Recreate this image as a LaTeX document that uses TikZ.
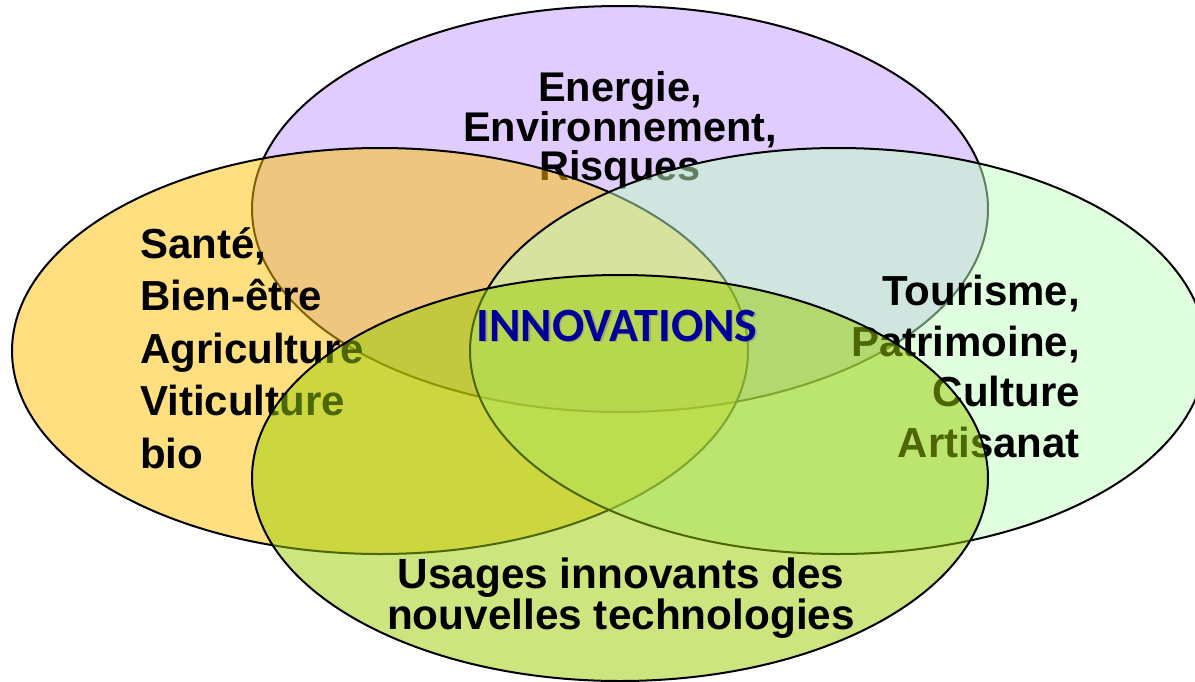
\documentclass[tikz,border=0pt]{standalone}
\usepackage{fontspec}
\usepackage{xcolor}
\setmainfont{Liberation Sans}
\newfontfamily\calibfont{Carlito}
\usetikzlibrary{shapes.geometric}
\definecolor{lilac}{RGB}{193,153,255}
\definecolor{sunny}{RGB}{255,192,0}
\definecolor{mint}{RGB}{192,255,192}
\definecolor{lime}{RGB}{153,204,0}
\definecolor{innoblue}{RGB}{0,0,153}
\tikzstyle{bubble} = [ellipse, draw=black, line width=2pt, fill opacity=0.5, minimum width=736pt, minimum height=406pt, inner sep=0pt]
\tikzstyle{theme} = [inner sep=0pt]

\begin{document}
\begin{tikzpicture}[x=1pt, y=-1pt]
    \useasboundingbox (0,0) rectangle (1195,681);
    \clip (0,0) rectangle (1195,681);
    % the four fields
    \node (energy) [bubble, fill=lilac] at (620,209) {};
    \node (energy_txt) [theme, align=center, anchor=base,
      font=\bfseries\fontsize{41.5}{38.5}\selectfont] at (620,180)
    {Energie,\\ Environnement,\\ Risques};
    \node (health) [bubble, fill=sunny] at (380,351) {};
    \node (health_txt) [theme, align=left, anchor=base west,
      font=\bfseries\fontsize{42}{52.5}\selectfont] at (140,468)
    {Santé,\\ Bien-être\\ Agriculture\\ Viticulture\\ bio};
    \node (tourism) [bubble, fill=mint] at (838,351) {};
    \node (tourism_txt) [theme, align=right, anchor=base east,
      font=\bfseries\fontsize{42}{50.5}\selectfont] at (1080,457)
    {Tourisme,\\ Patrimoine,\\ Culture\\ Artisanat};
    \node (usages) [bubble, fill=lime] at (620,478) {};
    \node (usages_txt) [theme, align=center, anchor=base,
      font=\bfseries\fontsize{42.3}{37}\selectfont] at (621,629)
    {Usages innovants des\\ nouvelles technologies};
    % centre
    \node (inno_shadow) [inner sep=0pt, anchor=base, text=black!45, text opacity=0.6,
      font=\calibfont\bfseries\fontsize{47.8}{47.8}\selectfont] at (618.5,342.5) {INNOVATIONS};
    \node (inno) [inner sep=0pt, anchor=base, text=innoblue,
      font=\calibfont\bfseries\fontsize{47.8}{47.8}\selectfont] at (617,341) {INNOVATIONS};
\end{tikzpicture}
\end{document}
